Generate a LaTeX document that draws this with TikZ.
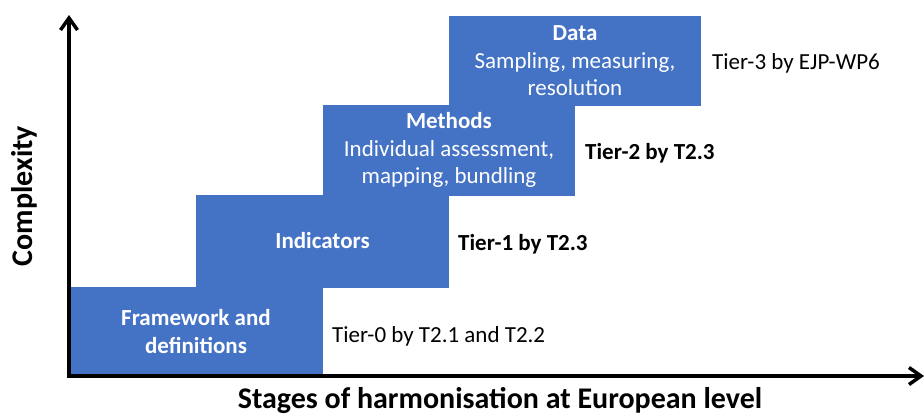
\documentclass[tikz,border=0pt]{standalone}
\usepackage{fontspec}
\setmainfont{Carlito}
\usetikzlibrary{arrows.meta}
\definecolor{blockblue}{HTML}{4472C4}
\begin{document}
\begin{tikzpicture}[x=1pt,y=-1pt,
  blk/.style={fill=blockblue, text=white, inner sep=0pt, align=center,
    font=\fontsize{23}{27.5}\selectfont},
  tier/.style={anchor=base west, inner sep=0pt, font=\fontsize{23}{28}\selectfont},
  axis/.style={line width=3.5pt, -{Straight Barb[length=12pt,width=17pt]}},
  axlabel/.style={font=\fontsize{30}{36}\selectfont\bfseries, inner sep=0pt, anchor=base}]
\useasboundingbox (0,0) rectangle (924,416);
% blocks (staircase)
\node[blk, minimum width=252pt, minimum height=89.5pt] (b4) at (575,60.75)
  {\textbf{Data}\\Sampling, measuring,\\resolution};
\node[blk, minimum width=252pt, minimum height=91pt] (b3) at (449,150)
  {\textbf{Methods}\\Individual assessment,\\mapping, bundling};
\node[blk, minimum width=253pt, minimum height=93pt] (b2) at (322.5,241)
  {\textbf{Indicators}};
\node[blk, minimum width=254pt, minimum height=90pt] (b1) at (196,331.5)
  {\textbf{Framework and}\\\textbf{definitions}};
% tier labels
\node[tier] (t0) at (332,342.5) {Tier-0 by T2.1 and T2.2};
\node[tier] (t1) at (458,250.5) {\textbf{Tier-1 by T2.3}};
\node[tier] (t2) at (585,159.5) {\textbf{Tier-2 by T2.3}};
\node[tier] (t3) at (712,69.5) {Tier-3 by EJP-WP6};
% axes
\coordinate (O) at (69,376);
\coordinate (ytip) at (69,15);
\coordinate (xtip) at (924,376);
\draw[axis, shorten <=-1.75pt] (O) -- (ytip);
\draw[axis, shorten <=-1.75pt] (O) -- (xtip);
% axis labels
\node[axlabel, rotate=90] (ylab) at (32,196) {Complexity};
\node[axlabel] (xlab) at (500,408) {Stages of harmonisation at European level};
\end{tikzpicture}
\end{document}
